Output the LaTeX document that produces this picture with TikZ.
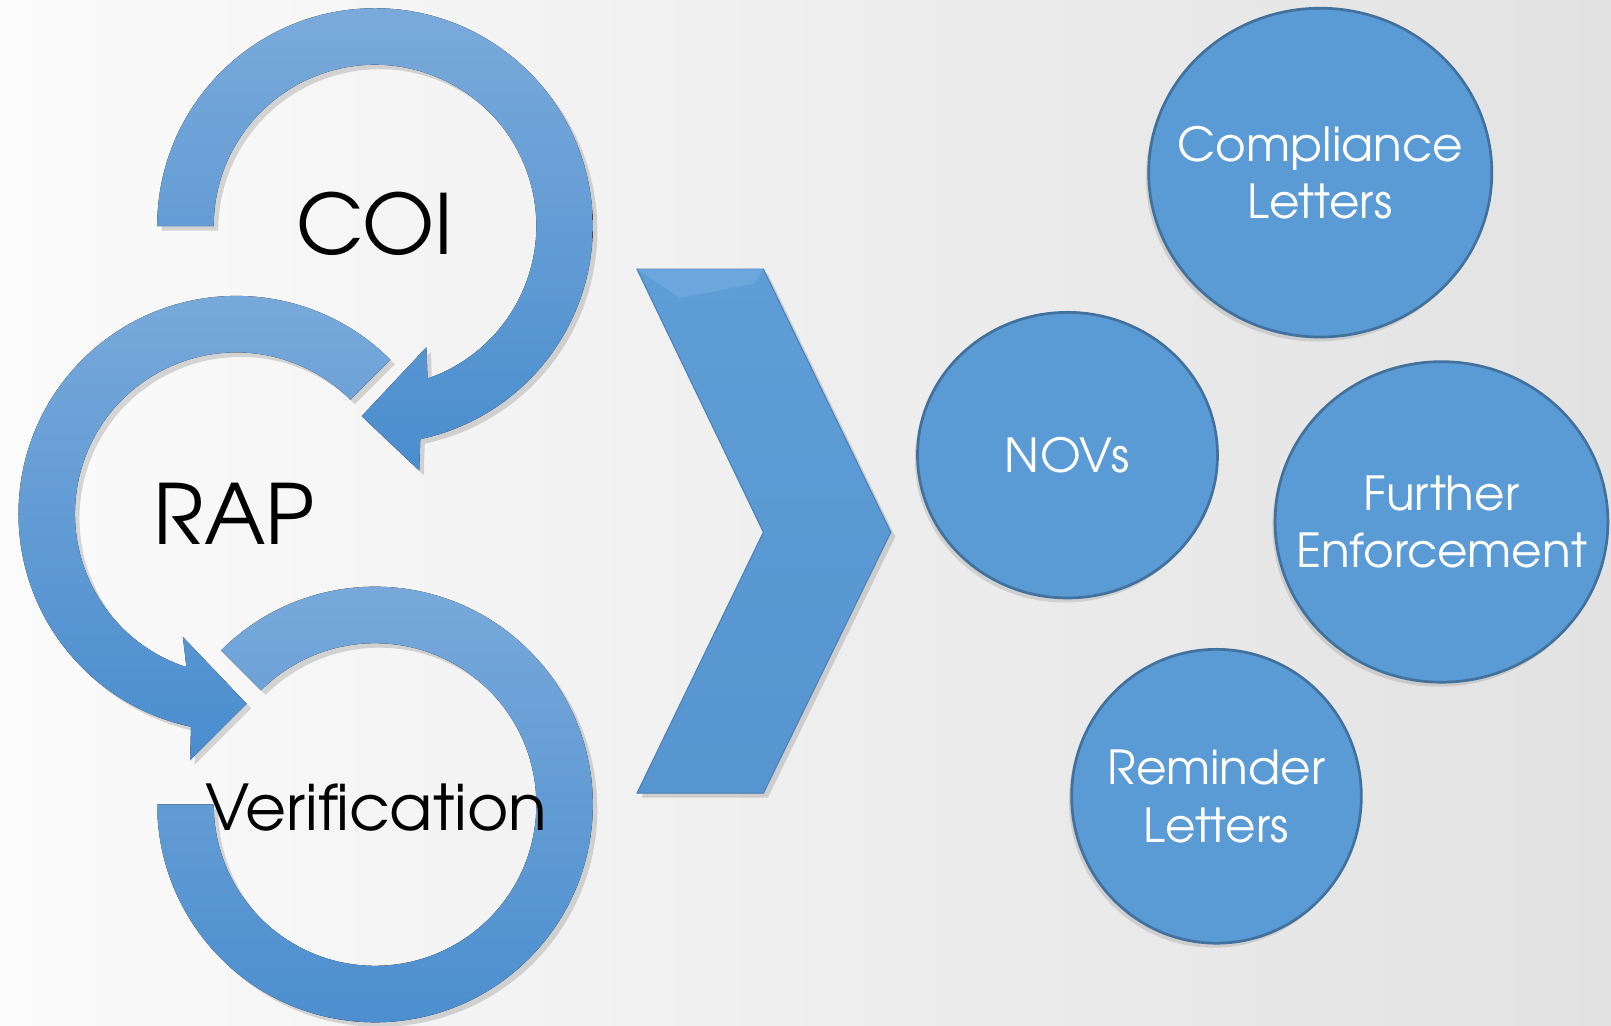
\documentclass[tikz,border=0pt]{standalone}
\usepackage{fontspec}
\setmainfont{TeX Gyre Adventor}
\usetikzlibrary{calc,shadows}
\definecolor{ringtop}{HTML}{7AAADB}
\definecolor{ringbot}{HTML}{4A8DCE}
\definecolor{chevtop}{HTML}{5E9DD6}
\definecolor{chevbot}{HTML}{5795D0}
\definecolor{chevline}{HTML}{4A82BC}
\definecolor{chevbevel}{HTML}{74AEE2}
\definecolor{bubblefill}{HTML}{5B9BD5}
\definecolor{bubbleline}{HTML}{41719C}
\definecolor{bgleft}{HTML}{FBFBFB}
\definecolor{bgright}{HTML}{E2E2E2}

\begin{document}
\begin{tikzpicture}[x=0.02cm,y=-0.02cm,
  ring/.style={top color=ringtop,bottom color=ringbot,
    drop shadow={shadow xshift=2.5pt,shadow yshift=-2.5pt,opacity=.3}},
  chev/.style={top color=chevtop,bottom color=chevbot,draw=chevline,line width=.6pt,
    drop shadow={shadow xshift=2.5pt,shadow yshift=-2.5pt,opacity=.3}},
  bubble/.style={fill=bubblefill,draw=bubbleline,line width=1.5pt,
    drop shadow={shadow xshift=-1.5pt,shadow yshift=-2.5pt,opacity=.25}},
  bubbletext/.style={text=white,align=center,font=\fontsize{26}{32}\selectfont},
  phasetext/.style={text=black,font=\fontsize{46}{50}\selectfont}]
\def\Ro{212}
\def\Ri{157}
\newcommand{\bubble}[6]{
  \draw[bubble] (#2,#3) ellipse [x radius=#4, y radius=#5];
  \node[bubbletext] (#1) at (#2,#3) {#6};
}

% background
\shade[left color=bgleft,right color=bgright] (0,0) rectangle (1568,998);
\useasboundingbox (0,0) rectangle (1568,998);

\coordinate (coic) at (365,220);
\coordinate (rapc) at (230,500);
\coordinate (verc) at (365,783);

% verification ring, no head
\fill[ring] ($(verc)+(-135:\Ro)$) arc[start angle=-135, end angle=180, radius=\Ro]
  -- ($(verc)+(180:\Ri)$) arc[start angle=180, end angle=-135, radius=\Ri] -- cycle;
% RAP ring, head points down into verification
\fill[ring] ($(rapc)+(-45:\Ro)$) arc[start angle=-45, end angle=-258, radius=\Ro]
  -- (185,740) -- (240,685) -- (178,620)
  -- ($(rapc)+(-252:\Ri)$) arc[start angle=-252, end angle=-45, radius=\Ri] -- cycle;
% COI ring, head points into RAP
\fill[ring] ($(coic)+(180:\Ro)$) arc[start angle=180, end angle=438, radius=\Ro]
  -- (408,458) -- (352,405) -- (415,338)
  -- ($(coic)+(431:\Ri)$) arc[start angle=431, end angle=180, radius=\Ri] -- cycle;

\node[phasetext] (coi) at (365,218) {COI};
\node[phasetext] (rap) at (228,500) {RAP};
\node[phasetext,font=\fontsize{35}{40}\selectfont] (ver) at (366,786) {Verification};

% chevron with a light bevel along the top
\fill[chev] (620,262) -- (743,262) -- (867,518) -- (743,772) -- (620,772) -- (743,518) -- cycle;
\fill[chevbevel,opacity=.6] (620,262) -- (743,262) -- (734,276) -- (662,290) -- cycle;

% outcomes
\bubble{cl}{1285}{168}{167}{160}{Compliance\\Letters}
\bubble{nov}{1039}{443}{146}{139}{NOVs}
\bubble{fe}{1403}{508}{162}{156}{Further\\Enforcement}
\bubble{rl}{1184}{775}{141}{143}{Reminder\\Letters}
\end{tikzpicture}
\end{document}
